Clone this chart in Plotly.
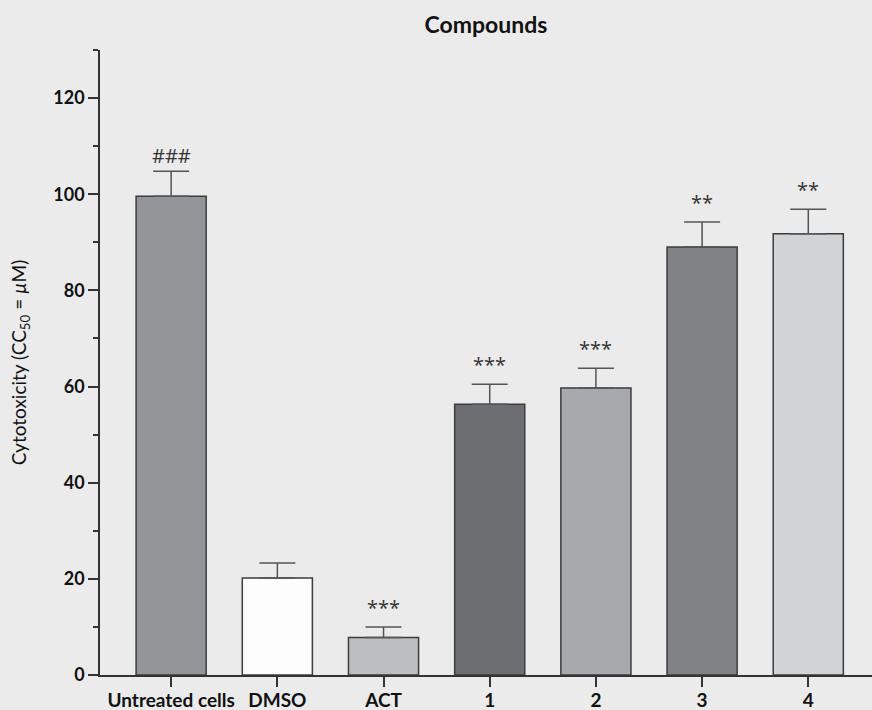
import plotly.graph_objects as go

categories = ["Untreated cells", "DMSO", "ACT", "1", "2", "3", "4"]
values = [99.6, 20.2, 7.8, 56.3, 59.7, 89.0, 91.8]
errors = [5.2, 3.1, 2.2, 4.2, 4.1, 5.2, 5.1]
labels = ["###", "", "***", "***", "***", "**", "**"]
colors = ["#949599", "#fdfdfd", "#bcbdbf", "#6d6e71", "#a7a9ac", "#808285", "#d1d3d4"]

FONT = "Lato"

fig = go.Figure()
fig.add_trace(go.Bar(
    x=list(range(len(categories))),
    y=values,
    width=0.66,
    marker=dict(color=colors, line=dict(color="#3c3c3c", width=1.5)),
    error_y=dict(type="data", symmetric=False, array=errors,
                 arrayminus=[0] * len(errors),
                 color="#555555", thickness=1.5, width=18),
    showlegend=False,
    hoverinfo="skip",
))

for i, (v, e, lab) in enumerate(zip(values, errors, labels)):
    if not lab:
        continue
    fig.add_annotation(x=i, y=v + e, text=lab, showarrow=False,
                       yanchor="bottom", yshift=0 if lab.startswith("#") else 4,
                       font=dict(family="Open Sans", size=20, color="#333333"))

fig.update_layout(
    width=872, height=710,
    margin=dict(l=100, r=0, t=50, b=35, autoexpand=False),
    paper_bgcolor="#ebebeb", plot_bgcolor="#ebebeb",
    font=dict(family=FONT, size=18, color="#111111"),
    title=dict(text="Compounds", x=0.5, xref="paper", xanchor="center",
               y=1 - 25 / 710, yref="container", yanchor="middle",
               font=dict(family=FONT, size=23, color="#111111", weight=700)),
    bargap=0.34,
)

fig.update_xaxes(
    range=[-0.67, 6.6],
    tickmode="array", tickvals=list(range(len(categories))), ticktext=categories,
    showline=True, linecolor="#333333", linewidth=1.5,
    ticks="outside", ticklen=10, tickwidth=1.5, tickcolor="#333333",
    ticklabelstandoff=-3,
    showgrid=False, zeroline=False,
    tickfont=dict(family=FONT, size=19, color="#111111", weight=700),
)

fig.update_yaxes(
    range=[0, 130],
    tickmode="linear", tick0=0, dtick=20,
    showline=True, linecolor="#333333", linewidth=1.5,
    ticks="outside", ticklen=10, tickwidth=1.5, tickcolor="#333333",
    minor=dict(dtick=10, ticks="outside", ticklen=5, tickwidth=1.5, tickcolor="#333333"),
    showgrid=False, zeroline=False,
    tickfont=dict(family=FONT, size=18, color="#111111", weight=700),
    title=dict(text="Cytotoxicity (CC<sub>50</sub> = <i>µ</i>M)", standoff=22,
               font=dict(family=FONT, size=19, color="#111111", weight=400)),
)

fig.write_html("out.html",
               config={"displayModeBar": False},
               post_script="document.body.style.margin='0';document.body.style.background='#ebebeb';")
